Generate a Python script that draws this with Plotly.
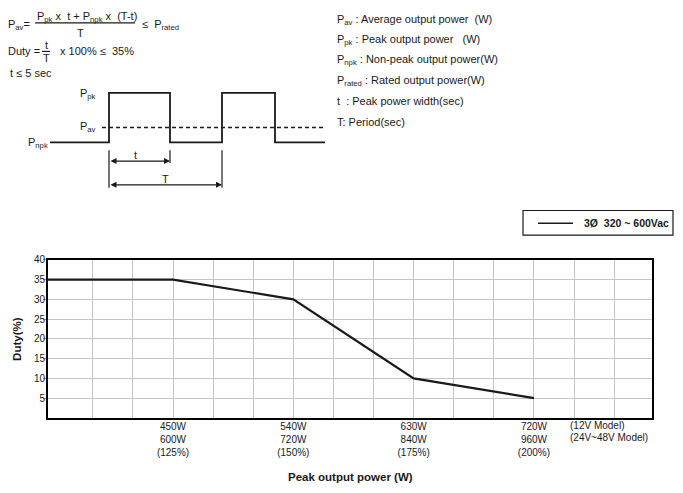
import plotly.graph_objects as go

# ---------------- data ----------------
peak_12v = [450, 540, 630, 720]          # W, 12V model
peak_24_48v = [600, 720, 840, 960]       # W, 24V~48V model
peak_pct = ["125%", "150%", "175%", "200%"]
curve_x = [356.5, 450, 540, 630, 720]    # peak output power (12V scale)
curve_duty = [35, 35, 30, 10, 5]         # duty (%)
duty_ticks = [5, 10, 15, 20, 25, 30, 35, 40]
series_name = "3Ø  320 ~ 600Vac"

# schematic waveform (illustration, diagram units)
wave_t = [50, 109, 109, 170, 170, 222, 222, 275, 275, 325]
wave_p = [142, 142, 92, 92, 142, 142, 92, 92, 142, 142]
pav_t = [102, 323]
pav_p = [127, 127]

W, H = 683, 493
FONT = "Liberation Sans, Arial, sans-serif"
INK = "#1a1a1a"
DY = 4  # vertical offset correction for the diagram layer (moves it up)

fig = go.Figure()

# main curve
fig.add_trace(go.Scatter(
    x=curve_x, y=curve_duty, mode="lines", name=series_name,
    line=dict(color=INK, width=2.2), xaxis="x", yaxis="y", showlegend=False))

# waveform diagram
fig.add_trace(go.Scatter(x=wave_t, y=wave_p, mode="lines", line=dict(color=INK, width=1.8),
                         xaxis="x2", yaxis="y2", showlegend=False, hoverinfo="skip"))
fig.add_trace(go.Scatter(x=pav_t, y=pav_p, mode="lines", line=dict(color=INK, width=1.4, dash="4px,3px"),
                         xaxis="x2", yaxis="y2", showlegend=False, hoverinfo="skip"))
for (xx, y0, y1) in [(109, 150, 188), (170, 150, 163), (222, 150, 188)]:
    fig.add_trace(go.Scatter(x=[xx, xx], y=[y0, y1], mode="lines", line=dict(color=INK, width=1.2),
                             xaxis="x2", yaxis="y2", showlegend=False, hoverinfo="skip"))

# legend sample line (legend box drawn below)
fig.add_trace(go.Scatter(x=[538, 573], y=[224, 224], mode="lines", line=dict(color=INK, width=1.6),
                         xaxis="x2", yaxis="y2", showlegend=False, hoverinfo="skip"))

x0p, x1p = 48, 652
y0p, y1p = 257, 417
x_range = [356.5, 808.3]

tickvals = list(range(390, 810, 30))
ticktext = []
for v in tickvals:
    if v in peak_12v:
        i = peak_12v.index(v)
        ticktext.append(f"{peak_12v[i]}W<br>{peak_24_48v[i]}W<br>({peak_pct[i]})")
    else:
        ticktext.append("")

annotations = []
def txt(x, y, s, size=11, xanchor="left", bold=False, yanchor="middle"):
    annotations.append(dict(x=x, y=y, xref="x2", yref="y2", text=("<b>%s</b>" % s) if bold else s,
                            showarrow=False, xanchor=xanchor, yanchor=yanchor,
                            font=dict(family=FONT, size=size, color=INK)))

# formula block
txt(6, 23, "P<sub>av</sub>=")
txt(35, 15, "P<sub>pk</sub> x  t + P<sub>npk</sub> x  (T-t)")
txt(80, 31, "T", xanchor="center")
txt(140, 23, "≤  P<sub>rated</sub>")
txt(6, 50, "Duty =")
txt(46, 43, "t", xanchor="center")
txt(46, 57, "T", xanchor="center")
txt(58, 50, "x 100% ≤  35%")
txt(8, 72, "t ≤ 5 sec")

# waveform labels
txt(78, 93, "P<sub>pk</sub>")
txt(78, 126, "P<sub>av</sub>")
txt(26, 143, "P<sub>npk</sub>")
txt(135, 155, "t", xanchor="center")
txt(165, 179, "T", xanchor="center")

# definitions
defs = ["P<sub>av</sub> : Average output power  (W)",
        "P<sub>pk</sub> : Peak output power   (W)",
        "P<sub>npk</sub> : Non-peak output power(W)",
        "P<sub>rated</sub> : Rated output power(W)",
        "t  : Peak power width(sec)",
        "T: Period(sec)"]
for s, yy in zip(defs, [18, 38, 59, 80, 100, 121]):
    txt(335, yy, s)

# dimension arrows
for (xa, xb, yy) in [(109, 170, 161), (109, 222, 185)]:
    annotations.append(dict(x=xb, y=yy, ax=xa, ay=yy, xref="x2", yref="y2", axref="x2", ayref="y2",
                            text="", showarrow=True, arrowhead=2, startarrowhead=2, arrowside="end+start",
                            arrowsize=1, startarrowsize=1, arrowwidth=1.2, arrowcolor=INK))

# legend text
txt(582, 224, series_name, size=10.5, bold=True)

# model labels, axis titles (these sit in the lower, un-shifted layer)
txt(568, 425 + DY, "(12V Model)", size=10)
txt(568, 437 + DY, "(24V~48V Model)", size=10)
txt(350, 477 + DY, "Peak output power (W)", size=11.5, xanchor="center", bold=True)
annotations.append(dict(x=17, y=337 + DY, xref="x2", yref="y2", text="<b>Duty(%)</b>", textangle=-90,
                        showarrow=False, font=dict(family=FONT, size=11.5, color=INK)))

shapes = [
    dict(type="line", xref="x2", yref="y2", x0=35, x1=135, y0=21, y1=21, line=dict(color=INK, width=1.2)),
    dict(type="line", xref="x2", yref="y2", x0=42, x1=50, y0=50, y1=50, line=dict(color=INK, width=1.2)),
    dict(type="rect", xref="x2", yref="y2", x0=523, x1=673, y0=211, y1=236, line=dict(color=INK, width=1.2),
         layer="below"),
]

fig.update_layout(
    width=W, height=H,
    margin=dict(l=0, r=0, t=0, b=0),
    paper_bgcolor="white", plot_bgcolor="rgba(0,0,0,0)",
    font=dict(family=FONT, color=INK, size=10),
    xaxis=dict(domain=[x0p / W, x1p / W], range=x_range, anchor="y",
               tickvals=tickvals, ticktext=ticktext, showgrid=True, gridcolor="#c4c4c4", gridwidth=1,
               zeroline=False, showline=True, mirror=True, linecolor="black", linewidth=2,
               ticks="", ticklabelstandoff=-2, tickfont=dict(size=10, family=FONT, color=INK)),
    yaxis=dict(domain=[(H - y1p) / H, (H - y0p) / H], range=[0, 40], anchor="x",
               tickvals=duty_ticks, showgrid=True, gridcolor="#c4c4c4", gridwidth=1,
               zeroline=False, showline=True, mirror=True, linecolor="black", linewidth=2,
               ticks="outside", ticklen=3, tickcolor="#999", ticklabelstandoff=-4,
               tickfont=dict(size=10, family=FONT, color=INK)),
    xaxis2=dict(domain=[0, 1], range=[0, W], anchor="y2", visible=False, fixedrange=True),
    yaxis2=dict(domain=[0, 1], range=[H + DY, DY], anchor="x2", visible=False, fixedrange=True),
    showlegend=False,
    annotations=annotations, shapes=shapes,
)

fig.write_html("out.html", post_script="document.body.style.margin='0';",
               config={"displayModeBar": False})
